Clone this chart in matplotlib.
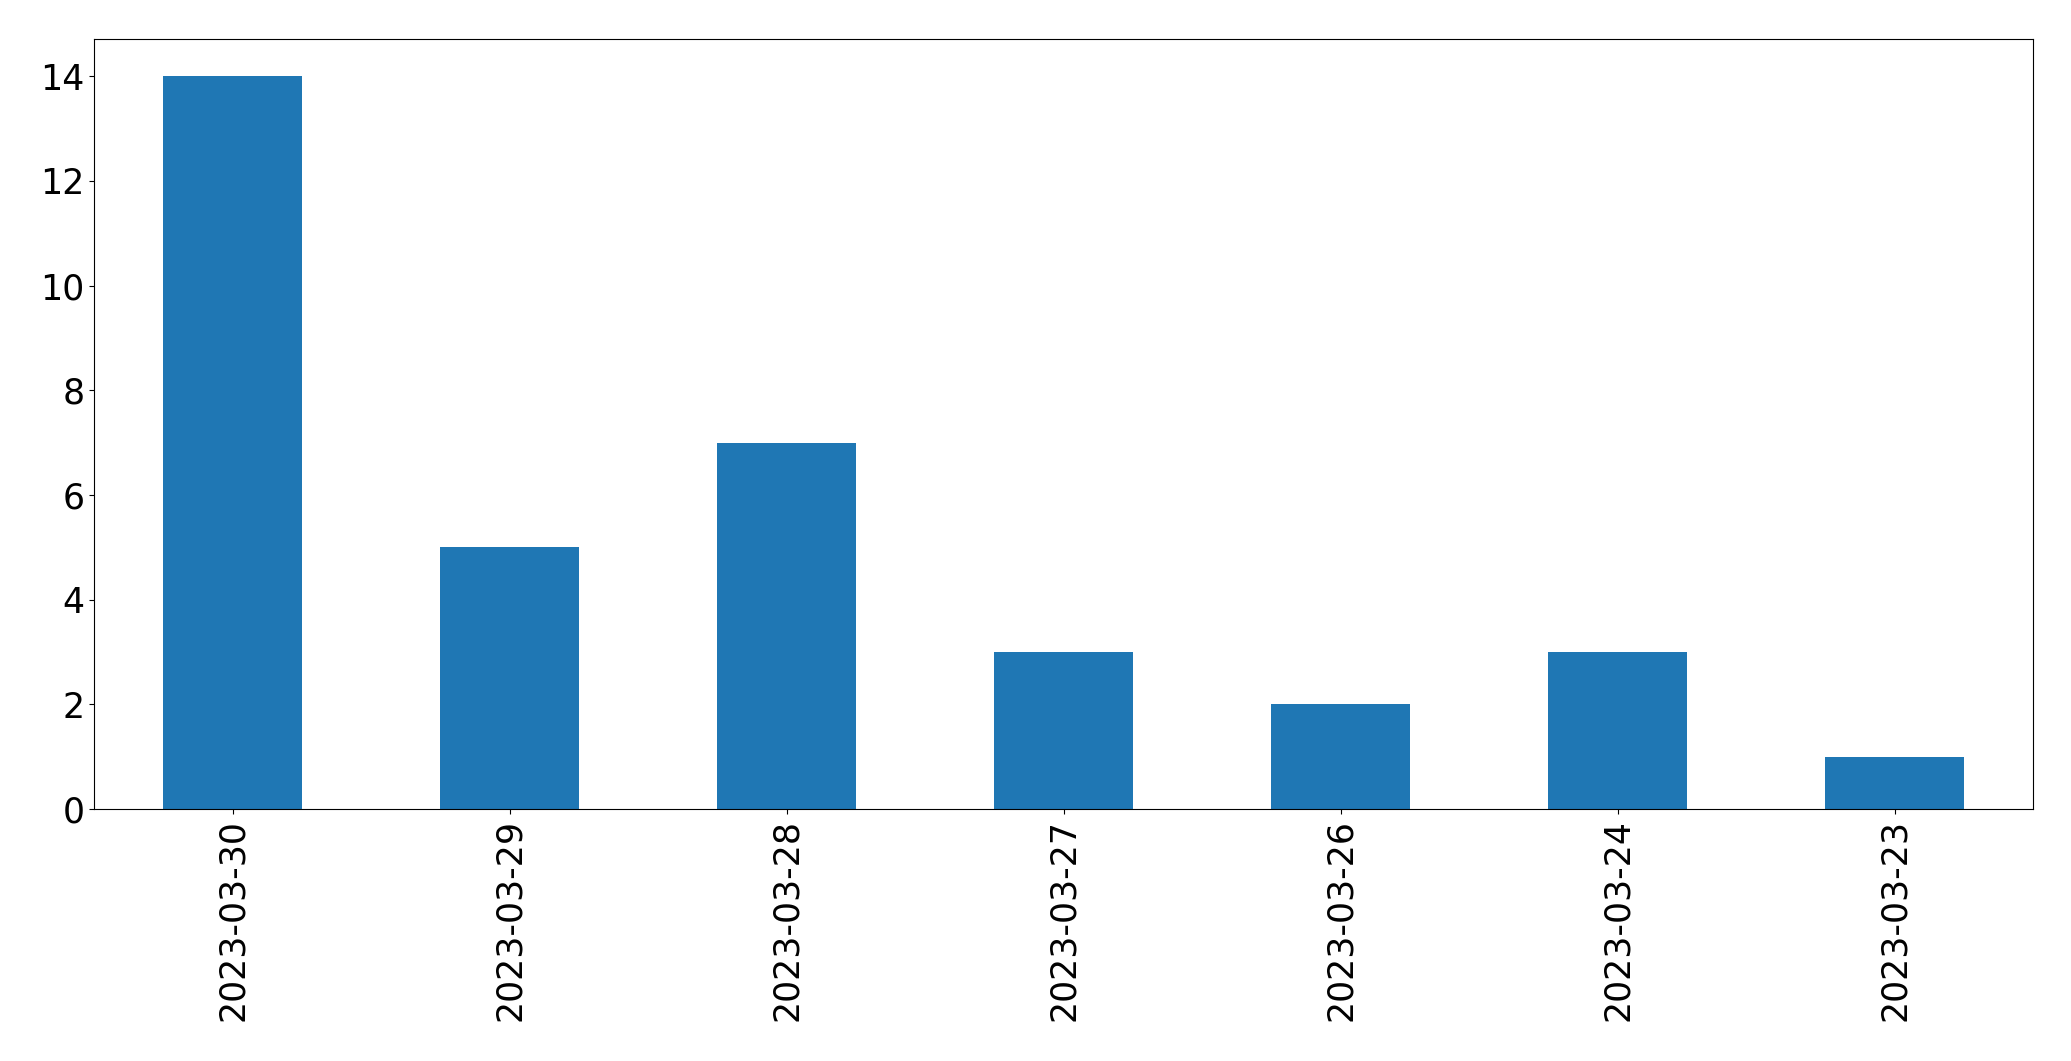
import matplotlib
matplotlib.use("Agg")
import matplotlib.pyplot as plt
import pandas as pd

dates = ["2023-03-30", "2023-03-29", "2023-03-28", "2023-03-27",
         "2023-03-26", "2023-03-24", "2023-03-23"]
counts = [14, 5, 7, 3, 2, 3, 1]

s = pd.Series(counts, index=dates)

fig = plt.figure(figsize=(20.71, 10.61), dpi=100)
ax = fig.add_axes([0.0454, 0.2375, 0.9363, 0.7253])
s.plot(kind="bar", ax=ax, color="#1f77b4", fontsize=25)
ax.tick_params(axis="x", labelrotation=90)

fig.savefig("out.png", dpi=100)
